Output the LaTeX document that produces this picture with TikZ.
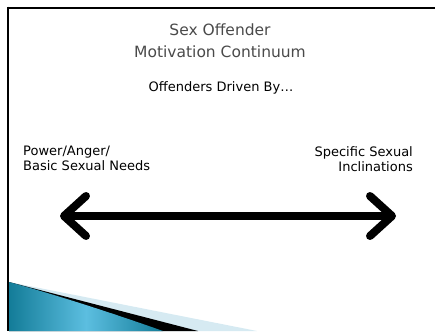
\documentclass[tikz,border=0pt]{standalone}
\usepackage{fontspec}
\setmainfont{DejaVu Sans}
\usetikzlibrary{arrows.meta}
\definecolor{titlegray}{HTML}{4A4A4A}
\definecolor{tealdark}{HTML}{137C98}
\definecolor{teallight}{HTML}{5CBEE0}
\definecolor{paleblue}{HTML}{D6EAF2}
\begin{document}
\begin{tikzpicture}[x=1pt,y=-1pt]
    \tikzset{heading/.style = {text=titlegray,font=\fontsize{15.5}{22}\selectfont,align=center}}
    \tikzset{label/.style = {font=\fontsize{13}{15}\selectfont,inner sep=0pt}}
    \tikzset{frameline/.style = {line width=2.5pt}}
    \useasboundingbox (0,0) rectangle (435,331);
    % frame
    \draw[frameline] (8,8) -- (435,8);
    \draw[frameline] (8,6.75) -- (8,331);
    % swoosh bottom left
    \fill[paleblue] (9,282) -- (257,331) -- (9,331) -- cycle;
    \fill[black] (9,282) -- (198,331) -- (9,331) -- cycle;
    \shade[left color=tealdark,right color=tealdark,middle color=teallight]
        (9,282) .. controls (60,296) and (115,314) .. (163,331) -- (9,331) -- cycle;
    % texts
    \node[heading] (title) at (220,41) {Sex Offender\\Motivation Continuum};
    \node[label] (driven) at (221,88) {Offenders Driven By\ldots};
    \node[label,anchor=north west,align=left] (lefttext) at (23,146) {Power/Anger/\\Basic Sexual Needs};
    \node[label,anchor=north east,align=right] (righttext) at (413,146) {Specific Sexual\\Inclinations};
    % continuum arrow
    \coordinate (l) at (60,216);
    \coordinate (r) at (396,216);
    \draw[line width=8pt,{Straight Barb[length=22pt,width=40pt,round]}-{Straight Barb[length=22pt,width=40pt,round]}] (l) -- (r);
\end{tikzpicture}
\end{document}
